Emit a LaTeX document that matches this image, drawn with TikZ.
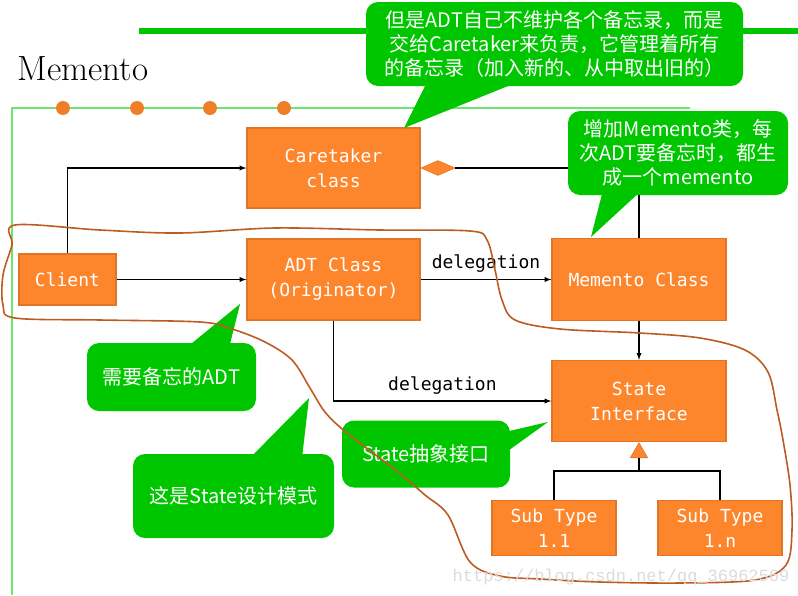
\documentclass[tikz,border=0pt]{standalone}
\usepackage{fontspec}
\setmonofont{DejaVu Sans Mono}
\newfontfamily\cjk{Noto Sans CJK SC}
\newfontfamily\wmfont{Liberation Mono}
\usepackage{tikz}
\usetikzlibrary{shapes,arrows}
\definecolor{boxorange}{RGB}{253,134,45}
\definecolor{boxedge}{RGB}{226,116,38}
\definecolor{notegreen}{RGB}{0,198,0}
\definecolor{linegreen}{RGB}{110,228,110}
\definecolor{dotorange}{RGB}{238,126,40}
\definecolor{penbrown}{RGB}{188,92,34}
\tikzstyle{cls} = [draw=boxedge, fill=boxorange, text=white, align=center, inner sep=0pt,
  minimum width=173pt, minimum height=81pt, font=\ttfamily\fontsize{18}{25}\selectfont]
\tikzstyle{small} = [cls, minimum width=124pt, minimum height=55pt]
\tikzstyle{note} = [fill=notegreen, rounded corners=12pt, text=white, align=center,
  inner sep=0pt, font=\cjk\fontsize{20}{24}\selectfont]
\tikzstyle{lbl} = [font=\ttfamily\fontsize{18}{22}\selectfont]
\tikzstyle{dot} = [fill=dotorange, circle, minimum size=14pt, inner sep=0pt]

\begin{document}
\begin{tikzpicture}[x=1pt,y=-1pt,>=latex,line width=1.3pt]
\useasboundingbox (0,0) rectangle (798,595);

\draw[notegreen, line width=6pt] (139,31) -- (798,31);
\draw[linegreen, line width=1.5pt] (690,108) -- (12,108) -- (12,595);
\foreach \x in {63,137,210,284}
  \node[dot] (dot\x) at (\x,108) {};
\node[anchor=base west, inner sep=0pt, font=\fontsize{35}{35}\selectfont] (title) at (17,80) {Memento};

\node[cls] (adt) at (333.5,279.5) {ADT Class\\(Originator)};
\node[cls, minimum width=97pt, minimum height=51pt] (client) at (67.5,279.5) {Client};
\node[cls, minimum height=80pt] (caretaker) [above of = adt, node distance=111.5pt] {Caretaker\\class};
\node[cls, minimum width=174pt, minimum height=82pt] (memento) [right of = adt, node distance=305.5pt] {Memento Class};
\node[cls, minimum width=174pt] (state) [below of = memento, node distance=121.5pt] {State\\Interface};
\node[small] (sub1) [below of = state, node distance=127pt, xshift=-85pt] {Sub Type\\1.1};
\node[small] (subn) [below of = state, node distance=127pt, xshift=81pt] {Sub Type\\1.n};
\node[draw=boxedge, line width=0.6pt, fill=boxorange, diamond, aspect=2.2, minimum width=34pt,
  minimum height=15pt, inner sep=0pt, anchor=west] (agg) at (caretaker.east) {};
\node[draw=boxedge, line width=0.6pt, fill=boxorange, regular polygon, regular polygon sides=3,
  minimum size=20pt, inner sep=0pt, anchor=corner 1] (gen) at (state.south) {};
\coordinate (fork) at (639,471);

\path[->]
(client) edge [] node {} (adt)
(adt) edge [] node[lbl, above=3pt] {delegation} (memento)
(memento) edge [] node {} (state);
\draw[->] (client.north) |- (caretaker.west);
\draw (agg.east) -| (memento.north);
\draw[->] (adt.south) |- node[lbl, above=3pt, pos=0.75] {delegation} (state.west);
\draw (gen.south) -- (fork);
\draw (sub1.north) |- (fork) -| (subn.north);

% callouts
\fill[notegreen] (428,80) -- (404,128) -- (523,80) -- cycle;
\node[note, minimum width=377pt, minimum height=84pt] (careNote) at (554.5,44)
  {但是ADT自己不维护各个备忘录，而是\\交给Caretaker来负责，它管理着所有\\的备忘录（加入新的、从中取出旧的）};
\fill[notegreen] (603,190) -- (591,237) -- (642,190) -- cycle;
\node[note, minimum width=220pt, minimum height=84pt] (memNote) at (678,153)
  {增加Memento类，每\\次ADT要备忘时，都生\\成一个memento};
\fill[notegreen] (186,348) -- (240,304) -- (229,348) -- cycle;
\node[note, minimum width=169pt, minimum height=68pt] (adtNote) at (171.5,377) {需要备忘的ADT};
\fill[notegreen] (250,458) -- (309,398) -- (302,458) -- cycle;
\node[note, minimum width=201pt, minimum height=84pt] (patNote) at (233.5,496) {这是State设计模式};
\fill[notegreen] (505,432) -- (548,422) -- (505,453) -- cycle;
\node[note, minimum width=168pt, minimum height=67pt] (ifNote) at (426,454) {State抽象接口};

% pen loop
\draw[penbrown, line width=1.6pt] plot[smooth cycle, tension=0.55] coordinates {
  (15,225) (100,230) (180,233) (275,228) (380,230) (470,231) (487,240) (495,270)
  (502,300) (515,320) (560,329) (640,333) (700,338) (745,350) (768,372) (777,410)
  (783,440) (790,485) (792,530) (786,565) (755,580) (680,583) (600,582) (540,579)
  (500,576) (470,562) (448,515) (425,495) (398,472) (347,433) (325,412) (310,388)
  (292,360) (265,342) (232,329) (200,322) (100,320) (15,318) (3,305) (3,275) (12,245)};

\node[anchor=base, text=black!14, font=\wmfont\fontsize{17}{17}\selectfont] (mark) at (621,581)
  {https://blog.csdn.net/qq\_36962569};
\end{tikzpicture}
\end{document}
